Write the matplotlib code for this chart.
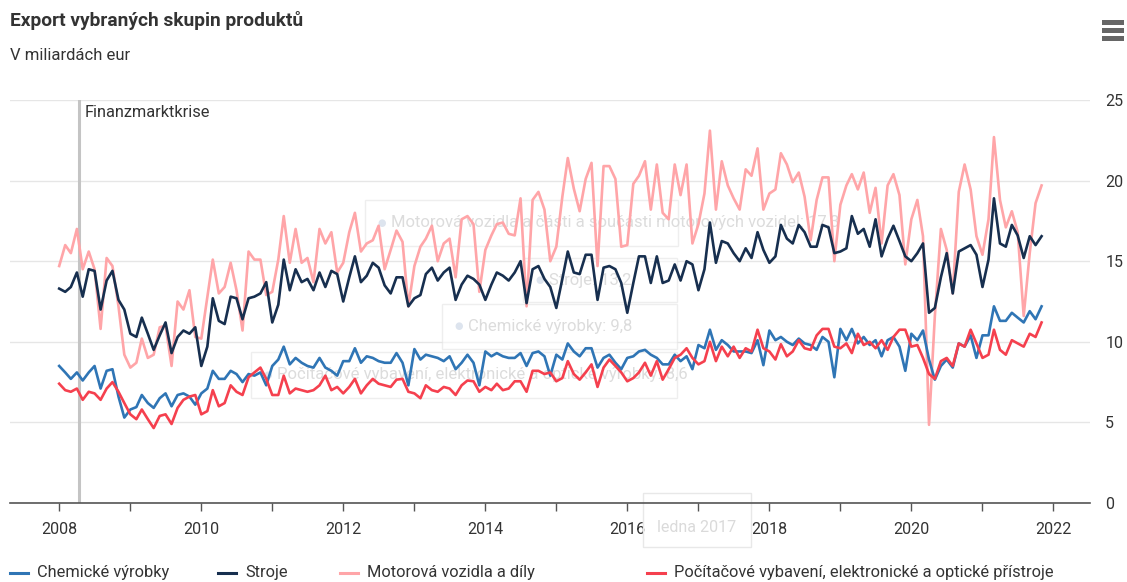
import numpy as np
import pandas as pd
import matplotlib
matplotlib.use("Agg")
import matplotlib.pyplot as plt
import matplotlib.dates as mdates
from matplotlib.patches import Rectangle

plt.rcParams["font.family"] = ["Roboto", "DejaVu Sans"]

# měsíční data od ledna 2008 do listopadu 2021 (mld. EUR)
months = pd.date_range("2008-01-01", "2021-11-01", freq="MS")

chemicke = [
    8.5, 8.1, 7.7, 8.1, 7.6, 8.1, 8.5, 7.1, 8.2, 8.3, 6.6, 5.3,
    5.8, 5.95, 6.7, 6.2, 5.9, 6.5, 6.8, 6.0, 6.7, 6.8, 6.6, 6.1,
    6.8, 7.1, 8.2, 7.7, 7.7, 8.2, 8.0, 7.5, 8.0, 7.9, 8.1, 7.3,
    8.5, 8.9, 9.7, 8.6, 9.0, 8.7, 8.5, 8.4, 9.0, 8.4, 8.2, 7.9,
    8.8, 8.8, 9.6, 8.7, 9.1, 9.0, 8.8, 8.7, 8.7, 9.3, 8.7, 7.3,
    9.55, 8.9, 9.2, 9.1, 9.0, 8.8, 9.1, 8.3, 8.7, 9.2, 8.7, 7.3,
    9.4, 9.1, 9.3, 9.1, 9.0, 9.0, 9.3, 8.5, 9.3, 9.4, 9.1, 7.9,
    9.2, 8.9, 9.9, 9.4, 9.1, 9.6, 9.6, 8.4, 9.0, 9.2, 8.7, 8.3,
    9.0, 9.1, 9.4, 9.5, 9.2, 9.0, 8.6, 8.6, 9.2, 8.8, 9.1, 8.3,
    9.8, 9.6, 10.75, 9.5, 10.1, 9.8, 9.4, 9.4, 9.4, 9.3, 10.1, 8.55,
    10.7, 10.1, 10.3, 10.0, 9.8, 10.2, 9.9, 9.8, 9.5, 10.3, 10.0, 7.8,
    10.8, 10.1, 10.8, 9.9, 10.3, 9.8, 10.1, 9.1, 10.1, 10.3, 9.7, 8.2,
    10.5, 10.1, 10.7, 8.9, 7.65, 8.5, 8.9, 8.4, 9.9, 9.7, 10.4, 9.0,
    10.4, 10.4, 12.2, 11.3, 11.3, 11.8, 11.5, 11.2, 11.9, 11.4, 12.2,
]

stroje = [
    13.3, 13.1, 13.4, 14.3, 12.8, 14.5, 14.4, 12.0, 13.8, 14.4, 12.6, 12.0,
    10.5, 10.3, 11.5, 10.5, 9.5, 10.4, 11.2, 9.3, 10.3, 10.7, 10.5, 10.9,
    8.5, 9.7, 12.7, 11.3, 11.1, 12.8, 12.7, 11.4, 12.7, 12.8, 13.0, 13.7,
    11.2, 12.3, 15.1, 13.2, 14.5, 13.7, 13.9, 13.2, 14.3, 13.4, 14.4, 14.2,
    12.5, 14.0, 15.3, 13.7, 14.1, 14.9, 14.6, 13.5, 13.0, 14.0, 14.0, 12.2,
    12.7, 12.9, 14.2, 14.6, 13.8, 14.3, 14.6, 12.6, 13.55, 14.1, 13.9, 13.55,
    12.6, 13.55, 14.3, 14.1, 13.8, 14.3, 15.0, 12.4, 14.5, 14.7, 13.9, 13.4,
    12.1, 13.9, 15.6, 14.3, 14.2, 15.4, 15.4, 12.6, 14.6, 14.7, 14.5, 13.65,
    11.8, 13.65, 15.3, 15.3, 13.65, 15.3, 13.65, 13.8, 14.8, 13.8, 15.0, 14.8,
    13.2, 14.5, 17.4, 14.9, 16.25, 16.1, 15.5, 15.0, 15.8, 15.2, 16.8, 15.7,
    14.9, 15.3, 17.25, 16.4, 16.1, 17.25, 16.8, 15.9, 15.9, 17.25, 17.1, 15.5,
    15.6, 15.8, 17.8, 16.7, 17.0, 15.9, 17.6, 15.3, 16.4, 17.2, 16.25, 15.3,
    15.0, 15.5, 16.1, 11.8, 12.1, 14.0, 15.5, 13.0, 15.6, 15.8, 16.0, 15.4,
    13.4, 15.1, 18.9, 16.1, 15.9, 17.25, 16.6, 15.2, 16.55, 16.0, 16.55,
]

motorova = [
    14.7, 16.0, 15.5, 17.0, 14.5, 15.6, 14.5, 10.8, 15.2, 14.7, 12.2, 9.2,
    8.4, 8.7, 10.2, 9.0, 9.2, 10.9, 11.0, 8.5, 12.5, 12.0, 13.2, 10.3,
    10.2, 12.8, 15.1, 13.0, 13.4, 14.9, 13.2, 10.7, 15.6, 15.1, 15.1, 12.9,
    13.1, 15.1, 17.8, 14.9, 17.0, 14.9, 15.2, 13.7, 17.0, 16.1, 16.8, 14.3,
    14.9, 16.8, 18.0, 15.6, 16.1, 16.3, 17.2, 14.5, 15.7, 16.9, 16.2, 12.2,
    14.7, 15.9, 16.4, 17.2, 15.0, 16.1, 16.4, 14.0, 17.6, 17.8, 17.3, 13.1,
    15.7, 16.6, 17.3, 17.4, 16.7, 16.6, 18.9, 12.2, 18.8, 19.3, 18.2, 15.0,
    15.9, 19.0, 21.4, 19.5, 18.1, 20.1, 21.1, 14.7, 20.9, 20.9, 20.1, 15.9,
    16.0, 19.8, 20.3, 21.2, 18.2, 21.0, 18.0, 17.6, 21.0, 19.1, 21.0, 16.1,
    17.3, 19.2, 23.1, 18.2, 21.2, 19.7, 18.9, 18.2, 20.7, 20.3, 22.0, 18.2,
    19.2, 19.45, 21.7, 21.0, 19.9, 20.5, 19.0, 16.3, 18.8, 20.2, 20.2, 15.0,
    18.5, 19.7, 20.4, 19.45, 20.5, 18.0, 19.55, 16.1, 19.7, 20.4, 19.1, 14.8,
    17.6, 18.8, 16.55, 4.85, 11.6, 17.0, 15.7, 13.0, 19.3, 21.0, 19.45, 16.55,
    15.4, 17.6, 22.7, 18.8, 17.1, 18.1, 16.8, 11.6, 15.5, 18.6, 19.7,
]

pocitace = [
    7.4, 7.0, 6.9, 7.1, 6.4, 6.9, 6.8, 6.4, 7.1, 7.5, 6.9, 6.2,
    5.5, 5.2, 5.8, 5.2, 4.65, 5.4, 5.5, 4.9, 5.9, 6.4, 6.6, 6.7,
    5.5, 5.7, 7.0, 6.0, 6.2, 7.3, 6.9, 6.7, 7.8, 8.1, 8.4, 7.7,
    6.7, 6.7, 7.9, 6.8, 7.1, 7.0, 6.9, 7.0, 7.3, 7.9, 7.0, 7.2,
    6.8, 7.2, 7.7, 6.8, 7.3, 7.7, 7.4, 7.3, 7.2, 7.65, 7.7, 6.9,
    6.8, 6.5, 7.3, 7.0, 6.9, 7.2, 7.1, 6.7, 7.3, 7.6, 7.55, 6.9,
    7.2, 7.0, 7.4, 7.0, 7.1, 7.55, 7.55, 6.9, 8.2, 8.2, 8.0, 8.1,
    7.55, 7.75, 8.8, 8.0, 7.65, 8.1, 8.6, 7.2, 8.4, 8.9, 8.5, 8.1,
    7.55, 7.75, 8.1, 8.7, 7.9, 8.8, 7.65, 8.3, 9.0, 9.2, 9.6, 9.0,
    8.6, 8.8, 10.0, 8.8, 9.7, 9.1, 9.7, 9.0, 9.6, 9.4, 10.75, 9.6,
    9.4, 8.9, 9.85, 9.1, 9.4, 10.1, 9.6, 9.5, 10.4, 10.8, 10.8, 9.7,
    9.6, 9.9, 9.3, 10.5, 9.8, 10.0, 9.6, 10.1, 9.5, 10.3, 10.75, 10.75,
    9.7, 9.8, 9.0, 8.0, 7.7, 8.8, 9.0, 8.5, 9.9, 9.7, 10.75, 9.9,
    9.0, 9.2, 10.75, 9.5, 9.2, 10.1, 9.9, 9.7, 10.5, 10.3, 11.2,
]

series = [
    ("Chemické výrobky", chemicke, "#2f75b5"),
    ("Stroje", stroje, "#172f4f"),
    ("Motorová vozidla a díly", motorova, "#ffa5a8"),
    ("Počítačové vybavení, elektronické a optické přístroje", pocitace, "#f5404e"),
]

krize_datum = pd.Timestamp("2008-04-10")
krize_text = "Finanzmarktkrise"

W, H = 1127, 582
fig = plt.figure(figsize=(W / 100, H / 100), dpi=100)
ax = fig.add_axes([10 / W, 1 - 503 / H, 1080 / W, 403 / H])

# poradi kresleni: ruzova dole, pak ostatni
for name, vals, col in [series[2], series[1], series[0], series[3]]:
    ax.plot(months, vals, color=col, lw=1.9, zorder=3, solid_joinstyle="round")

ax.axvline(krize_datum, color="#c4c4c4", lw=2.2, zorder=2)
ax.text(krize_datum + pd.Timedelta(days=30), 24.2, krize_text,
        fontsize=11.8, color="#333333", va="center", ha="left")

ax.set_ylim(0, 25)
ax.set_xlim(pd.Timestamp("2007-04-23"), pd.Timestamp("2022-07-08"))
ax.set_yticks([0, 5, 10, 15, 20, 25])
ax.yaxis.tick_right()
ax.tick_params(axis="y", length=0, pad=11, labelsize=11.5, labelcolor="#333333")
ax.grid(axis="y", color="#e6e6e6", lw=1)
ax.set_axisbelow(True)

ax.xaxis.set_major_locator(mdates.YearLocator(1))
ax.xaxis.set_major_formatter(
    plt.FuncFormatter(lambda v, p: mdates.num2date(v).strftime("%Y")
                      if mdates.num2date(v).year % 2 == 0 else ""))
ax.tick_params(axis="x", length=6, width=1, color="#555555", pad=8,
               labelsize=11.5, labelcolor="#333333")

for s in ["top", "right", "left"]:
    ax.spines[s].set_visible(False)
ax.spines["bottom"].set_color("#555555")
ax.spines["bottom"].set_linewidth(1.2)

# vybledly tooltip (leden 2017), kresleny pod caramy
tips = [
    (365, 200, 313, 46, "Motorová vozidla a části a součásti motorových vozidel: 17,3"),
    (523, 258, 154, 44, "Stroje: 13,2"),
    (442, 304, 235, 45, "Chemické výrobky: 9,8"),
    (251, 352, 426, 46, "Počítačové vybavení, elektronické a optické výrobky: 8,6"),
]
for x0, y0, w, h, t in tips:
    ax.add_patch(Rectangle((x0 / W, 1 - (y0 + h) / H), w / W, h / H,
                           transform=fig.transFigure, facecolor="#ffffff",
                           edgecolor="#e4e4e4", alpha=0.6, lw=1, zorder=1,
                           clip_on=False))
    ax.text((x0 + 12) / W, 1 - (y0 + h / 2) / H, "●", fontsize=7,
            color="#dde4ee", va="center", ha="left", zorder=1.5,
            transform=fig.transFigure)
    ax.text((x0 + 26) / W, 1 - (y0 + h / 2) / H, t, fontsize=12,
            color="#dcdcdc", va="center", ha="left", zorder=1.5,
            transform=fig.transFigure)
ax.add_patch(Rectangle((643 / W, 1 - 547 / H), 108 / W, 54 / H,
                       transform=fig.transFigure, facecolor="none",
                       edgecolor="#e8e8e8", lw=1, zorder=1, clip_on=False))
fig.text(697 / W, 1 - 527 / H, "ledna 2017", fontsize=11.5, color="#dadada",
         ha="center", va="center")

fig.text(10 / W, 1 - 20 / H, "Export vybraných skupin produktů",
         fontsize=13.8, fontweight="bold", color="#333333", va="center")
fig.text(10 / W, 1 - 56 / H, "V miliardách eur", fontsize=12,
         color="#333333", va="center")

# menu ikona vpravo nahore
for yy in [22, 30, 38]:
    fig.patches.append(Rectangle((1102 / W, 1 - (yy + 2.5) / H), 22 / W, 5 / H,
                                 transform=fig.transFigure, facecolor="#666666",
                                 edgecolor="none"))

# legenda
leg_x = [10, 218, 340, 647]
for (name, vals, col), lx in zip(series, leg_x):
    fig.add_artist(plt.Line2D([lx / W, (lx + 18) / W], [1 - 573 / H] * 2,
                              color=col, lw=2.2, transform=fig.transFigure))
    fig.text((lx + 27) / W, 1 - 573 / H, name, fontsize=11.8, color="#333333",
             va="center", ha="left")

fig.savefig("out.png", dpi=100, facecolor="white")
